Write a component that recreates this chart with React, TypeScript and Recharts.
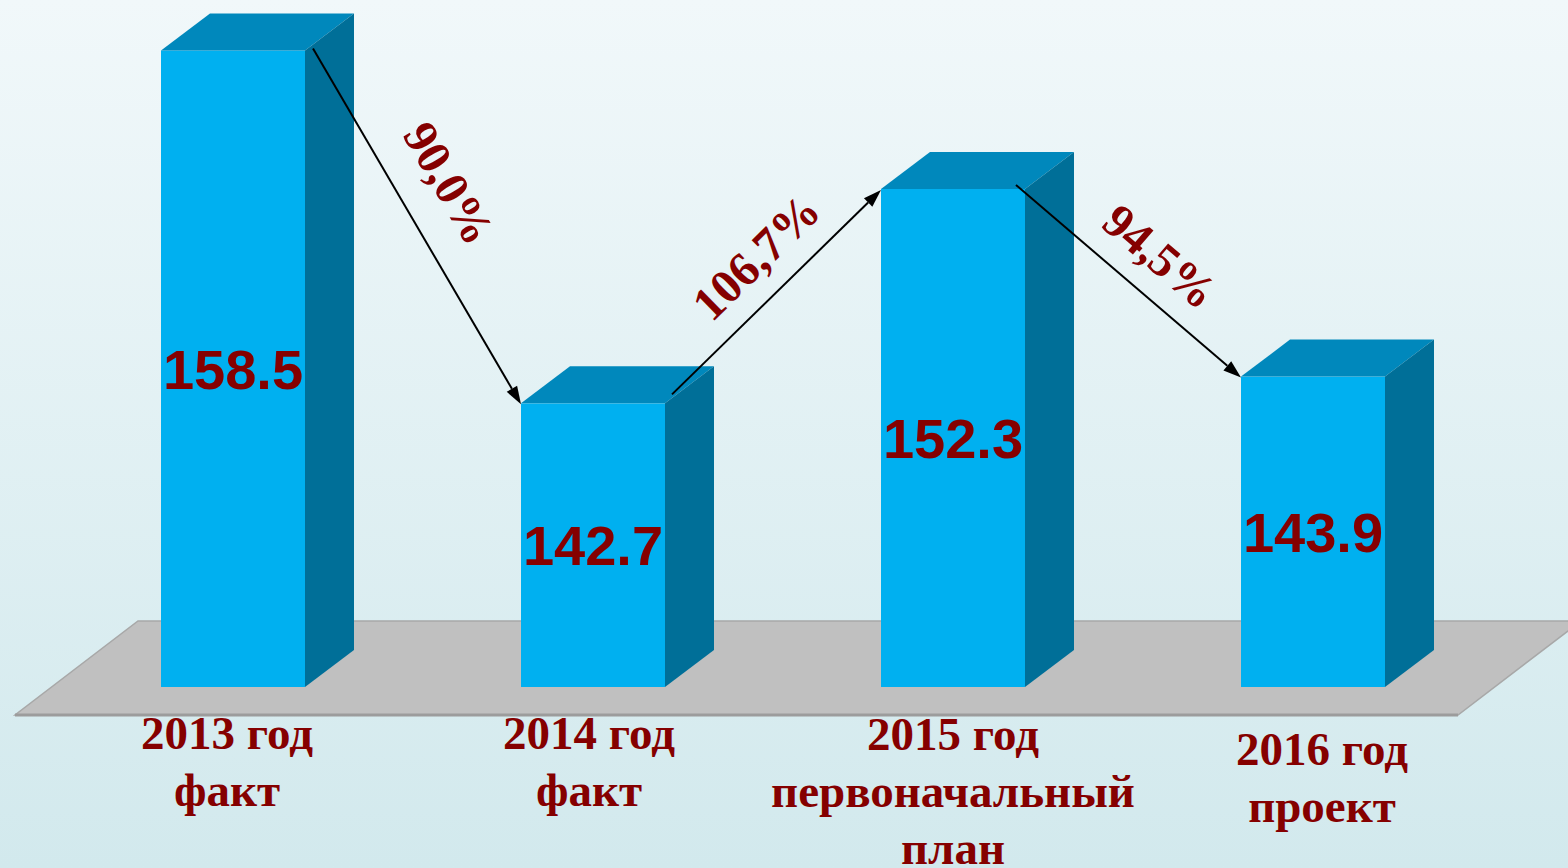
import { Bar, BarChart, LabelList, ReferenceLine, XAxis, YAxis } from "recharts";

const categories = [
  "2013 год факт",
  "2014 год факт",
  "2015 год первоначальный план",
  "2016 год проект",
];
const categoryLines = [
  ["2013 год", "факт"],
  ["2014 год", "факт"],
  ["2015 год", "первоначальный", "план"],
  ["2016 год", "проект"],
];
const values = [158.5, 142.7, 152.3, 143.9];
const changeLabels = ["90,0%", "106,7%", "94,5%"];

const WIDTH = 1568;
const HEIGHT = 868;
const DARK_RED = "#850000";
const BAR_SIZE = 144;
const DEPTH_X = 49;
const DEPTH_Y = 37;
const SERIF = "'Liberation Serif', 'Times New Roman', serif";
const SANS = "'Liberation Sans', Arial, sans-serif";

// small per-label nudges, the source deck wasn't perfectly aligned
const tickShiftX = [-6, -4, 0, 9];
const tickShiftY = [0, 0, 1, 16];
const arrowStart = [
  { dx: 8, dy: -2 },
  { dx: 7, dy: -9 },
  { dx: -9, dy: -4 },
];
const arrowLabelPos = [
  { along: -21, normal: 50 },
  { along: 10, normal: 40 },
  { along: 8, normal: 40 },
];

const data = categories.map((name, i) => ({ name, value: values[i] }));

function Bar3D(props: any) {
  const { x, y, width, height } = props;
  if (!width || !height) return null;
  const r = x + width;
  return (
    <g>
      <rect x={x} y={y} width={width} height={height} fill="#00B0F0" />
      <polygon
        points={`${x},${y} ${r},${y} ${r + DEPTH_X},${y - DEPTH_Y} ${x + DEPTH_X},${y - DEPTH_Y}`}
        fill="#0088BC"
      />
      <polygon
        points={`${r},${y} ${r + DEPTH_X},${y - DEPTH_Y} ${r + DEPTH_X},${y + height - DEPTH_Y} ${r},${y + height}`}
        fill="#006F98"
      />
    </g>
  );
}

function ValueLabel(props: any) {
  const { x, y, width, height, value } = props;
  const size = 56;
  return (
    <text
      x={x + width / 2}
      y={y + height / 2 + size * 0.36}
      textAnchor="middle"
      fill={DARK_RED}
      fontFamily={SANS}
      fontWeight={700}
      fontSize={size}
    >
      {Number(value).toFixed(1)}
    </text>
  );
}

function CategoryTick(props: any) {
  const { x, y, payload } = props;
  const i = categories.indexOf(payload.value);
  const lines = categoryLines[i] ?? [String(payload.value)];
  const cx = x + (tickShiftX[i] ?? 0);
  return (
    <text
      x={cx}
      y={y + 62 + (tickShiftY[i] ?? 0)}
      textAnchor="middle"
      fill={DARK_RED}
      fontFamily={SERIF}
      fontWeight={700}
      fontSize={47}
    >
      {lines.map((line, k) => (
        <tspan key={k} x={cx} dy={k === 0 ? 0 : 57}>
          {line}
        </tspan>
      ))}
    </text>
  );
}

function ChangeArrow(props: any) {
  const { x1, y1, x2, y2, text, index } = props;
  if ([x1, y1, x2, y2].some((v) => typeof v !== "number" || Number.isNaN(v))) {
    return null;
  }
  const st = arrowStart[index];
  const lp = arrowLabelPos[index];
  const sx = x1 + BAR_SIZE / 2 + st.dx;
  const sy = y1 + st.dy;
  const ex = x2 - BAR_SIZE / 2;
  const ey = y2 + 1;
  const len = Math.hypot(ex - sx, ey - sy);
  const ux = (ex - sx) / len;
  const uy = (ey - sy) / len;
  const head = 18;
  const half = 6;
  const bx = ex - ux * head;
  const by = ey - uy * head;
  const angle = (Math.atan2(uy, ux) * 180) / Math.PI;
  const lx = (sx + ex) / 2 + ux * lp.along + uy * lp.normal;
  const ly = (sy + ey) / 2 + uy * lp.along - ux * lp.normal;
  return (
    <g>
      <line x1={sx} y1={sy} x2={bx} y2={by} stroke="#000" strokeWidth={2} />
      <polygon
        points={`${ex},${ey} ${bx - uy * half},${by + ux * half} ${bx + uy * half},${by - ux * half}`}
        fill="#000"
      />
      <text
        x={lx}
        y={ly}
        dy="0.35em"
        textAnchor="middle"
        transform={`rotate(${angle} ${lx} ${ly})`}
        fill={DARK_RED}
        fontFamily={SERIF}
        fontWeight={700}
        fontSize={48}
      >
        {text}
      </text>
    </g>
  );
}

export default function App() {
  return (
    <div
      style={{
        position: "absolute",
        left: 0,
        top: 0,
        width: WIDTH,
        height: HEIGHT,
        overflow: "hidden",
        background: "linear-gradient(180deg, #F1F8FA 0%, #D2E9ED 100%)",
      }}
    >
      <svg width={WIDTH} height={HEIGHT} style={{ position: "absolute", left: 0, top: 0 }}>
        <polygon points="15,715 1458,715 1581,621 138,621" fill="#C0C0C0" stroke="#A8A8A8" strokeWidth={1.5} />
        <line x1={15} y1={715} x2={1458} y2={715} stroke="#9C9C9C" strokeWidth={3} />
      </svg>
      <div style={{ position: "absolute", left: 0, top: 0 }}>
        <BarChart
          width={WIDTH}
          height={HEIGHT}
          data={data}
          margin={{ top: 17, right: 75, bottom: 151, left: 53 }}
        >
          <XAxis
            dataKey="name"
            height={30}
            axisLine={false}
            tickLine={false}
            tickSize={0}
            tickMargin={0}
            interval={0}
            tick={<CategoryTick />}
          />
          <YAxis hide domain={[130, 160]} />
          <Bar dataKey="value" barSize={BAR_SIZE} shape={<Bar3D />} isAnimationActive={false}>
            <LabelList dataKey="value" content={<ValueLabel />} />
          </Bar>
          {changeLabels.map((label, i) => (
            <ReferenceLine
              key={label}
              segment={[
                { x: categories[i], y: values[i] },
                { x: categories[i + 1], y: values[i + 1] },
              ]}
              shape={(p: any) => <ChangeArrow {...p} text={label} index={i} />}
            />
          ))}
        </BarChart>
      </div>
    </div>
  );
}
